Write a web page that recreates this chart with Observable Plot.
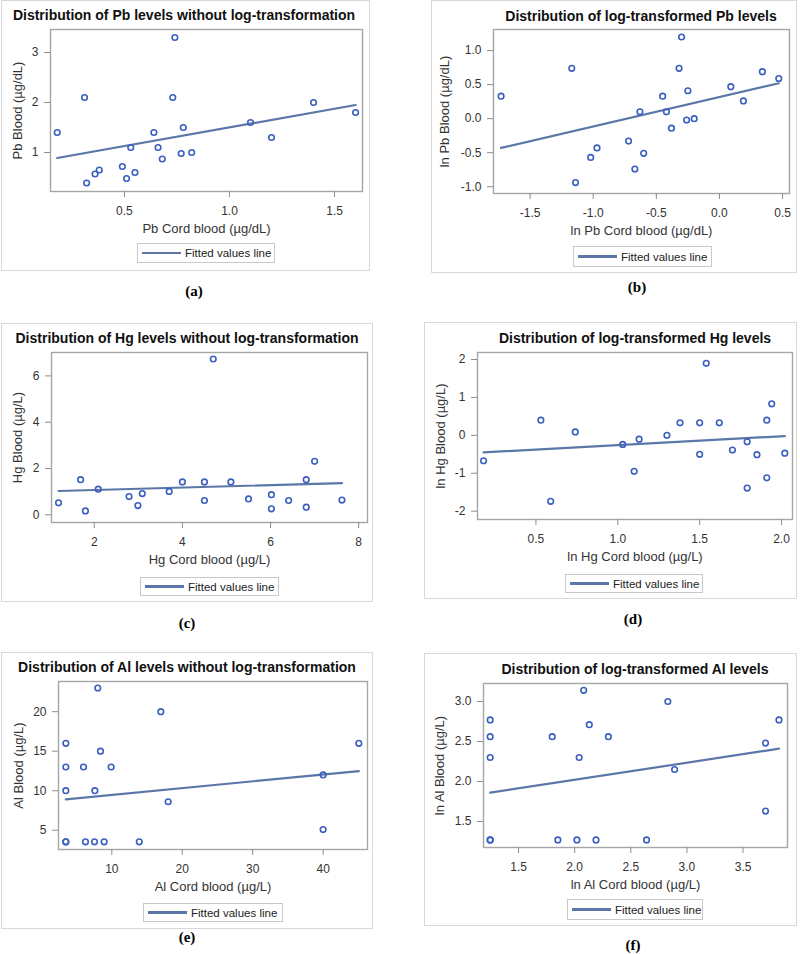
<!DOCTYPE html>
<html><head><meta charset="utf-8">
<script src="https://cdn.jsdelivr.net/npm/d3@7"></script>
<script src="https://cdn.jsdelivr.net/npm/@observablehq/plot@0.6"></script>
<style>
body{margin:0;background:#fff;}
#root{position:relative;width:800px;height:954px;overflow:hidden;font-family:"Liberation Sans",Arial,sans-serif;}
.box{position:absolute;border:1.5px solid #d8d8d8;box-sizing:border-box;}
.title{position:absolute;width:400px;text-align:center;font-weight:bold;font-size:14px;line-height:16px;color:#111;white-space:nowrap;}
.leg{position:absolute;border:1px solid #c8c8c8;box-sizing:border-box;display:flex;align-items:center;font-family:"Liberation Sans",Arial,sans-serif;font-size:11.5px;color:#222;white-space:nowrap;}
.leg .ln{width:39px;height:2.5px;background:#5b77a8;margin:0 4px 0 4px;}
.tag{position:absolute;width:60px;text-align:center;font-family:"Liberation Serif","Times New Roman",serif;font-weight:bold;font-size:15px;line-height:18px;color:#000;}
.plot{position:absolute;}
g[aria-label="x-axis label"] text, g[aria-label="y-axis label"] text{font-size:13px;}
</style></head>
<body><div id="root"></div>
<script>
// ---------- data ----------
// (a) Pb without log-transformation
const pbCord  = [0.18,0.31,0.32,0.36,0.38,0.49,0.51,0.53,0.55,0.64,0.66,0.68,0.73,0.74,0.77,0.78,0.82,1.10,1.20,1.40,1.60];
const pbBlood = [1.40,2.10,0.39,0.57,0.65,0.72,0.48,1.10,0.60,1.40,1.10,0.87,2.10,3.30,0.98,1.50,1.00,1.60,1.30,2.00,1.80];
const pbFitX = [0.18,1.60];
const pbFitY = [0.89,1.95];
const pbXTicks = [0.5,1.0,1.5];
const pbYTicks = [1,2,3];
// (b) log-transformed Pb
const lnPbCord  = [-1.73,-1.17,-1.14,-1.02,-0.97,-0.72,-0.67,-0.63,-0.60,-0.45,-0.42,-0.38,-0.32,-0.30,-0.26,-0.25,-0.20,0.09,0.19,0.34,0.47];
const lnPbBlood = [0.33,0.74,-0.94,-0.57,-0.43,-0.33,-0.74,0.10,-0.51,0.33,0.10,-0.14,0.74,1.20,-0.02,0.41,0.00,0.47,0.26,0.69,0.59];
const lnPbFitX = [-1.73,0.47];
const lnPbFitY = [-0.43,0.52];
const lnPbXTicks = [-1.5,-1.0,-0.5,0.0,0.5];
const lnPbYTicks = [-1.0,-0.5,0.0,0.5,1.0];
// (c) Hg without log-transformation
const hgCord  = [1.19,1.69,1.80,2.09,2.79,2.99,3.09,3.70,4.00,4.50,4.50,4.70,5.10,5.50,6.02,6.02,6.41,6.81,6.81,7.00,7.62];
const hgBlood = [0.52,1.52,0.17,1.11,0.79,0.40,0.92,1.01,1.42,1.42,0.62,6.73,1.42,0.69,0.87,0.26,0.62,1.52,0.33,2.31,0.64];
const hgFitX = [1.19,7.62];
const hgFitY = [1.03,1.37];
const hgXTicks = [2,4,6,8];
const hgYTicks = [0,2,4,6];
// (d) log-transformed Hg
const lnHgCord  = [0.18,0.53,0.59,0.74,1.03,1.10,1.13,1.30,1.38,1.50,1.50,1.54,1.62,1.70,1.79,1.79,1.85,1.91,1.91,1.94,2.02];
const lnHgBlood = [-0.67,0.40,-1.74,0.09,-0.24,-0.95,-0.10,0.00,0.33,0.33,-0.50,1.90,0.33,-0.39,-0.17,-1.39,-0.51,0.40,-1.12,0.83,-0.47];
const lnHgFitX = [0.18,2.02];
const lnHgFitY = [-0.45,-0.02];
const lnHgXTicks = [0.5,1.0,1.5,2.0];
const lnHgYTicks = [-2,-1,0,1,2];
// (e) Al without log-transformation
const alCord  = [3.47,3.47,3.47,3.47,3.47,5.98,6.26,7.54,7.59,8.01,8.39,8.91,9.9,13.9,16.96,18.0,40,40,45.07];
const alBlood = [16,13,10,3.53,3.53,13,3.53,3.53,10,23,15,3.53,13,3.53,20,8.6,12,5.08,16];
const alFitX = [3.47,45.07];
const alFitY = [8.91,12.48];
const alXTicks = [10,20,30,40];
const alYTicks = [5,10,15,20];
// (f) log-transformed Al
const lnAlCord  = [1.247,1.247,1.247,1.247,1.247,1.80,1.85,2.02,2.04,2.08,2.13,2.19,2.30,2.64,2.83,2.89,3.70,3.70,3.82];
const lnAlBlood = [2.77,2.56,2.30,1.27,1.27,2.56,1.27,1.27,2.30,3.14,2.71,1.27,2.56,1.27,3.00,2.15,2.48,1.63,2.77];
const lnAlFitX = [1.247,3.82];
const lnAlFitY = [1.86,2.41];
const lnAlXTicks = [1.5,2.0,2.5,3.0,3.5];
const lnAlYTicks = [1.5,2.0,2.5,3.0];

const legendText = "Fitted values line";

// ---------- layout ----------
const f1 = d => d.toFixed(1);
const f0 = d => d.toFixed(0);
const panels = [
  {tag:"(a)", tagPos:[194,291], box:[1,0,370,271], title:"Distribution of Pb levels without log-transformation", tc:[184,15],
   frame:[50,29,362,191], legend:[137,243,275,263], ylo:38,
   xs:pbCord, ys:pbBlood, fx:pbFitX, fy:pbFitY, xt:pbXTicks, yt:pbYTicks, xf:f1, yf:f0,
   xd:[0.148,1.633], yd:[0.22,3.46], xl:"Pb Cord blood (µg/dL)", yl:"Pb Blood (µg/dL)"},
  {tag:"(b)", tagPos:[637,287], box:[431,0,797,273], title:"Distribution of log-transformed Pb levels", tc:[641,16],
   frame:[493,29,789,193], legend:[573,246,712,267], ylo:54,
   xs:lnPbCord, ys:lnPbBlood, fx:lnPbFitX, fy:lnPbFitY, xt:lnPbXTicks, yt:lnPbYTicks, xf:f1, yf:f1,
   xd:[-1.79,0.555], yd:[-1.10,1.31], xl:"ln Pb Cord blood (µg/dL)", yl:"ln Pb Blood (µg/dL)"},
  {tag:"(c)", tagPos:[187,623], box:[1,323,373,602], title:"Distribution of Hg levels without log-transformation", tc:[187,338],
   frame:[51,352,367,522], legend:[140,577,279,596], ylo:39,
   xs:hgCord, ys:hgBlood, fx:hgFitX, fy:hgFitY, xt:hgXTicks, yt:hgYTicks, xf:f0, yf:f0,
   xd:[1.03,8.2], yd:[-0.33,7.01], xl:"Hg Cord blood (µg/L)", yl:"Hg Blood (µg/L)"},
  {tag:"(d)", tagPos:[633,619], box:[424,322,797,599], title:"Distribution of log-transformed Hg levels", tc:[635,338],
   frame:[477,352,792,519], legend:[565,574,703,593], ylo:42,
   xs:lnHgCord, ys:lnHgBlood, fx:lnHgFitX, fy:lnHgFitY, xt:lnHgXTicks, yt:lnHgYTicks, xf:f1, yf:f0,
   xd:[0.143,2.067], yd:[-2.22,2.185], xl:"ln Hg Cord blood (µg/L)", yl:"ln Hg Blood (µg/L)"},
  {tag:"(e)", tagPos:[187,937], box:[1,652,373,929], title:"Distribution of Al levels without log-transformation", tc:[187,667],
   frame:[58,681,367,849], legend:[143,903,283,922], ylo:45,
   xs:alCord, ys:alBlood, fx:alFitX, fy:alFitY, xt:alXTicks, yt:alYTicks, xf:f0, yf:f0,
   xd:[2.43,46.3], yd:[2.56,23.82], xl:"Al Cord blood (µg/L)", yl:"Al Blood (µg/L)"},
  {tag:"(f)", tagPos:[633,945], box:[424,653,797,926], title:"Distribution of log-transformed Al levels", tc:[635,669],
   frame:[483,683,787,847], legend:[567,899,703,920], ylo:49,
   xs:lnAlCord, ys:lnAlBlood, fx:lnAlFitX, fy:lnAlFitY, xt:lnAlXTicks, yt:lnAlYTicks, xf:f1, yf:f1,
   xd:[1.1875,3.896], yd:[1.175,3.225], xl:"ln Al Cord blood (µg/L)", yl:"ln Al Blood (µg/L)"}
];

const root = document.getElementById("root");
function place(el, l, t, w, h) {
  el.style.left = l + "px"; el.style.top = t + "px";
  if (w != null) el.style.width = w + "px";
  if (h != null) el.style.height = h + "px";
  root.appendChild(el);
  return el;
}

for (const c of panels) {
  const box = document.createElement("div"); box.className = "box";
  place(box, c.box[0], c.box[1], c.box[2]-c.box[0], c.box[3]-c.box[1]);

  const [fl, ft, fr, fb] = c.frame;
  const svgLeft = c.box[0] + 2, ml = fl - svgLeft, mt = 12, mb = 52, mr = 6;
  const pts = c.xs.map((x, i) => ({x, y: c.ys[i]}));
  const fit = c.fx.map((x, i) => ({x, y: c.fy[i]}));
  const svg = Plot.plot({
    width: ml + (fr - fl) + mr,
    height: mt + (fb - ft) + mb,
    marginLeft: ml, marginRight: mr, marginTop: mt, marginBottom: mb,
    style: {fontFamily: '"Liberation Sans", Arial, sans-serif', fontSize: "12px", color: "#333", background: "transparent", overflow: "visible"},
    x: {domain: c.xd},
    y: {domain: c.yd},
    marks: [
      Plot.frame({stroke: "#a6a6a6", strokeWidth: 1.4}),
      Plot.axisX({ticks: c.xt, tickFormat: c.xf, tickSize: 6, tickPadding: 9, stroke: "#8c8c8c", fill: "#333",
                  label: c.xl, labelAnchor: "center", labelOffset: 41, labelArrow: "none"}),
      Plot.axisY({ticks: c.yt, tickFormat: c.yf, tickSize: 6, tickPadding: 6, stroke: "#8c8c8c", fill: "#333",
                  label: c.yl, labelAnchor: "center", labelOffset: c.ylo, labelArrow: "none"}),
      Plot.line(fit, {x: "x", y: "y", stroke: "#5b77a8", strokeWidth: 2.2}),
      Plot.dot(pts, {x: "x", y: "y", r: 2.8, stroke: "#3b5fc0", strokeWidth: 1.6, fill: "none"})
    ]
  });
  svg.classList.add("plot");
  place(svg, svgLeft, ft - mt);

  const title = document.createElement("div"); title.className = "title"; title.textContent = c.title;
  place(title, c.tc[0] - 200, c.tc[1] - 8);

  const leg = document.createElement("div"); leg.className = "leg";
  const ln = document.createElement("span"); ln.className = "ln";
  const lt = document.createElement("span"); lt.textContent = legendText;
  leg.appendChild(ln); leg.appendChild(lt);
  place(leg, c.legend[0], c.legend[1], c.legend[2]-c.legend[0], c.legend[3]-c.legend[1]);

  const tag = document.createElement("div"); tag.className = "tag"; tag.textContent = c.tag;
  place(tag, c.tagPos[0] - 30, c.tagPos[1] - 9);
}
</script>
</body></html>
